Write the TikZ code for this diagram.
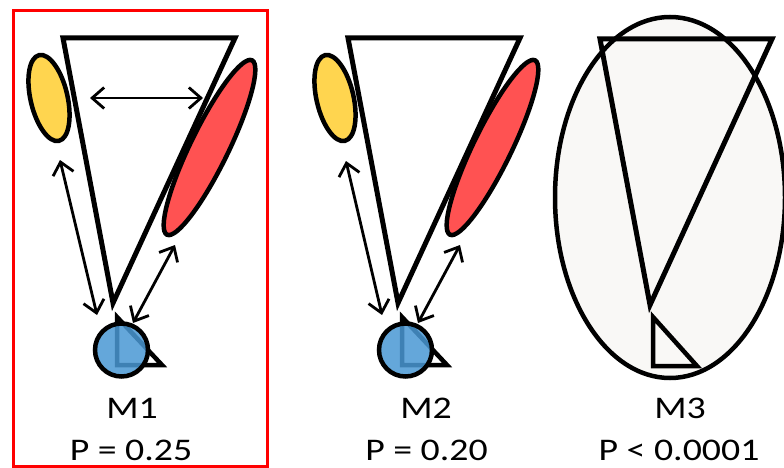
\documentclass[tikz,border=0pt]{standalone}
\usepackage{fontspec}
\setmainfont{Carlito}
\usetikzlibrary{arrows.meta,shapes.geometric}
\definecolor{yelf}{HTML}{FFD54F}
\definecolor{redf}{HTML}{FF5252}
\definecolor{bluf}{HTML}{4A98D4}
\definecolor{palef}{HTML}{F9F8F6}
\begin{document}
\begin{tikzpicture}[x=1pt,y=-1pt,
  tri/.style={draw=black,line width=5pt,line join=miter},
  smalltri/.style={draw=black,line width=4.5pt,fill=white,line join=miter},
  yelell/.style={ellipse,draw=black,line width=4.5pt,fill=yelf,inner sep=0pt,
    minimum width=37pt,minimum height=88pt,rotate=13},
  redell/.style={ellipse,draw=black,line width=4.5pt,fill=redf,inner sep=0pt,
    minimum width=194pt,minimum height=38pt,rotate=64},
  blucirc/.style={circle,draw=black,line width=4.5pt,fill=bluf,fill opacity=0.85,
    draw opacity=1,inner sep=0pt,minimum size=53pt},
  arr/.style={line width=2.8pt,
    {Straight Barb[length=12pt,width=21pt]}-{Straight Barb[length=12pt,width=21pt]}},
  lab/.style={anchor=base,inner sep=0pt,font=\fontsize{31.5pt}{37pt}\selectfont}
]
\useasboundingbox (0,0) rectangle (784,468);
\fill[white] (0,0) rectangle (784,468);

% ---------- Panel 1 ----------
\draw[red,line width=3.5pt] (13.5,10.5) rectangle (267.5,466.5);
\node[yelell] (y1) at (49,98) {};
\node[redell] (r1) at (209.5,147.5) {};
\draw[tri] (63,38) -- (235,38) -- (113,303) -- cycle;
\draw[smalltri] (117,317) -- (117,365) -- (162,365) -- cycle;
\node[blucirc] (b1) at (121.5,350) {};
\coordinate (h1a) at (90,98);
\coordinate (h1b) at (203,98);
\coordinate (yb1a) at (60,160);
\coordinate (yb1b) at (97,315);
\coordinate (rb1a) at (175,245);
\coordinate (rb1b) at (133,323);
\draw[arr] (h1a) -- (h1b);
\draw[arr] (yb1a) -- (yb1b);
\draw[arr] (rb1a) -- (rb1b);
\node[lab] (m1) at (132,418) {\scalebox{1.2}[1]{M1}};
\node[lab] (p1) at (131,460) {\scalebox{1.2}[1]{P = 0.25}};

% ---------- Panel 2 ----------
\node[yelell] (y2) at (335,98) {};
\node[redell] (r2) at (492.5,147.5) {};
\draw[tri] (348,38) -- (520,38) -- (398,303) -- cycle;
\draw[smalltri] (402,317) -- (402,365) -- (447,365) -- cycle;
\node[blucirc] (b2) at (405.5,350) {};
\coordinate (yb2a) at (346,161);
\coordinate (yb2b) at (382,315);
\coordinate (rb2a) at (460,245);
\coordinate (rb2b) at (418,323);
\draw[arr] (yb2a) -- (yb2b);
\draw[arr] (rb2a) -- (rb2b);
\node[lab] (m2) at (426,418) {\scalebox{1.2}[1]{M2}};
\node[lab] (p2) at (426.5,460) {\scalebox{1.2}[1]{P = 0.20}};

% ---------- Panel 3 ----------
\node[ellipse,draw=black,line width=4.5pt,fill=palef,inner sep=0pt,
  minimum width=230pt,minimum height=361pt] (e3) at (670,197.5) {};
\draw[tri] (600,39) -- (772,39) -- (650,305) -- cycle;
\draw[smalltri,fill=palef] (653,317) -- (653,366) -- (697,366) -- cycle;
\node[lab] (m3) at (680,418) {\scalebox{1.2}[1]{M3}};
\node[lab] (p3) at (679,460) {\scalebox{1.2}[1]{P < 0.0001}};
\end{tikzpicture}
\end{document}
